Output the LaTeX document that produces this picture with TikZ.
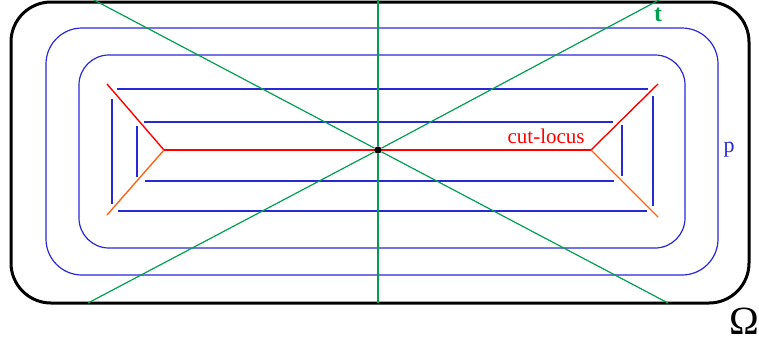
\documentclass[tikz,border=0pt]{standalone}
\usepackage{fontspec}
\setmainfont{Liberation Serif}
\usetikzlibrary{positioning}

\definecolor{lvlblue}{RGB}{40,40,215}
\definecolor{raygreen}{RGB}{0,160,80}
\definecolor{cutred}{RGB}{255,0,0}
\definecolor{cutorange}{RGB}{255,100,20}

\begin{document}
\begin{tikzpicture}[x=0.5pt, y=-0.5pt,
    level/.style={draw=lvlblue, line width=0.6pt},
    ray/.style={draw=raygreen, line width=0.6pt},
    cut/.style={draw=cutred, line width=0.7pt},
    cutlow/.style={draw=cutorange, line width=0.7pt}]

        \useasboundingbox (0,0) rectangle (759,345);

        % domain
        \draw[line width=1.5pt, rounded corners=20pt] (11,2) rectangle (749,303);

        % level sets
        \draw[level, rounded corners=18pt] (46,28) rectangle (718,275);
        \draw[level, rounded corners=15pt] (79,55) rectangle (685,248);

        \draw[level] (117,89) -- (648,89);
        \draw[level] (118,211) -- (647,211);
        \draw[level] (112,99) -- (112,204);
        \draw[level] (653,96) -- (653,206);

        \draw[level] (144,122) -- (613,122);
        \draw[level] (145,181) -- (614,181);
        \draw[level] (137,126) -- (137,177);
        \draw[level] (622,125) -- (622,176);

        % cut locus
        \coordinate (jl) at (164,150);
        \coordinate (jr) at (591,150);
        \coordinate (ul) at (107,84);
        \coordinate (ll) at (107,215);
        \coordinate (ur) at (658,84);
        \coordinate (lr) at (658,217);

        \draw[cut] (ul) -- (jl);
        \draw[cutlow] (ll) -- (jl);
        \draw[cut] (jl) -- (jr);
        \draw[cut] (jr) -- (ur);
        \draw[cutlow] (jr) -- (lr);

        % rays through the centre
        \node[circle, fill, inner sep=1.3pt] (o) at (378,150) {};

        \coordinate (v1) at (378,0);
        \coordinate (v2) at (378,303);
        \coordinate (a1) at (94,0);
        \coordinate (a2) at (668,303);
        \coordinate (b1) at (88,303);
        \coordinate (b2) at (659,0);

        \draw[ray] (v1) -- (o) -- (v2);
        \draw[ray] (a1) -- (o) -- (a2);
        \draw[ray] (b1) -- (o) -- (b2);

        % labels
        \node[text=raygreen, font=\fontsize{12}{14}\selectfont\bfseries] (tlab) at (658,15) {t};
        \node[text=lvlblue, font=\fontsize{11}{13}\selectfont] (plab) at (729,150) {p};
        \node[text=cutred, font=\fontsize{10.5}{12}\selectfont, anchor=base east, inner sep=0pt] (cutlab) at (585,143) {cut-locus};
        \node[font=\fontsize{20}{22}\selectfont] (omega) at (744,321) {Ω};
    \end{tikzpicture}
\end{document}
